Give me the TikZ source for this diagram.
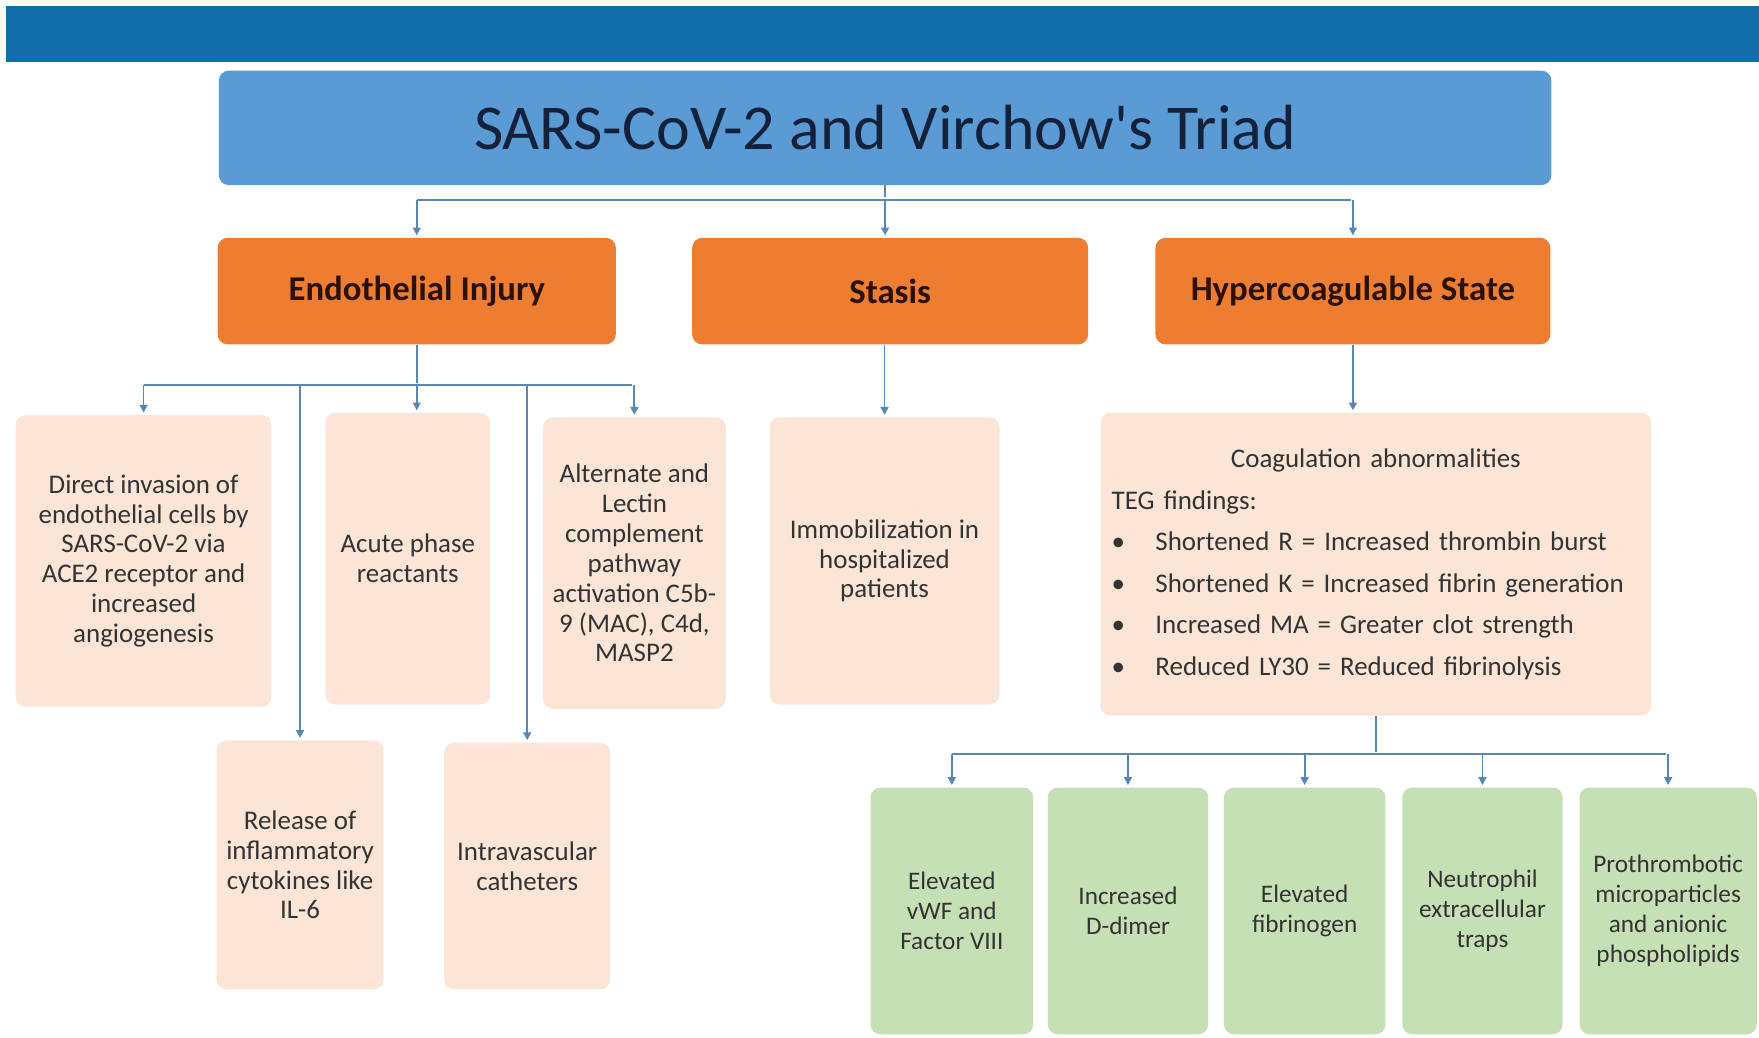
\documentclass[tikz,border=0pt]{standalone}
\usepackage{fontspec}
\setmainfont{Carlito}
\usetikzlibrary{arrows.meta}
\definecolor{barblue}{HTML}{106DA8}
\definecolor{titleblue}{HTML}{5B9BD5}
\definecolor{titleink}{HTML}{13213A}
\definecolor{headorange}{HTML}{ED7D31}
\definecolor{headink}{HTML}{2B1006}
\definecolor{pinkfill}{HTML}{FBE5D6}
\definecolor{greenfill}{HTML}{C5E0B4}
\definecolor{linkblue}{HTML}{5A86B4}
\definecolor{bodyink}{HTML}{333333}
\newcommand\bul{\makebox[39pt][l]{\textbullet}}
\begin{document}
\begin{tikzpicture}[x=1pt,y=-1pt,>={Triangle[length=7pt,width=7pt]},
  box/.style={rounded corners=9pt,inner sep=0pt,align=center,text=bodyink,font=\fontsize{24}{26.6}\selectfont},
  head/.style={box,fill=headorange,minimum width=355pt,minimum height=95pt,text=headink,font=\fontsize{31}{36}\selectfont\bfseries},
  cause/.style={box,fill=pinkfill},
  marker/.style={box,fill=greenfill,minimum height=220pt,font=\fontsize{22.5}{26.6}\selectfont},
  link/.style={linkblue,line width=1.6pt,shorten >=2pt}]
\useasboundingbox (0,0) rectangle (1568,925);
\fill[barblue] (5,5) rectangle (1568,55);

\node[box,fill=titleblue,minimum width=1188pt,minimum height=102pt,text=titleink,font=\fontsize{57}{66}\selectfont] (title) at (789,114) {SARS-CoV-2 and Virchow\textquotesingle s Triad};

\node[head] (inj) at (371.5,259.5) {Endothelial Injury};
\node[head,minimum width=353pt] (stasis) at (793.5,259.5) {Stasis};
\node[head,minimum width=352pt] (hyper) at (1206,259.5) {Hypercoagulable State};

\node[cause,minimum width=228pt,minimum height=260pt] (direct) at (128,500) {Direct invasion of\\endothelial cells by\\SARS-CoV-2 via\\ACE2 receptor and\\increased\\angiogenesis};
\node[cause,minimum width=147pt,minimum height=260pt] (acute) at (363.5,498) {Acute phase\\reactants};
\node[cause,minimum width=163pt,minimum height=260pt] (altern) at (565.5,502) {Alternate and\\Lectin\\complement\\pathway\\activation C5b-\\9 (MAC), C4d,\\MASP2};
\node[cause,minimum width=149pt,minimum height=222pt] (release) at (267.5,771) {Release of\\inflammatory\\cytokines like\\IL-6};
\node[cause,minimum width=148pt,minimum height=220pt] (intrav) at (470,772) {Intravascular\\catheters};
\node[cause,minimum width=205pt,minimum height=256pt] (immob) at (788.5,500) {Immobilization in\\hospitalized\\patients};
\node[cause,minimum width=491pt,minimum height=270pt,text width=471pt,align=left,font=\fontsize{24}{37}\selectfont] (coag) at (1226.5,503)
  {\makebox[\linewidth]{Coagulation abnormalities}\\TEG findings:\\
   \bul Shortened R = Increased thrombin burst\\
   \bul Shortened K = Increased fibrin generation\\
   \bul Increased MA = Greater clot strength\\
   \bul Reduced LY30 = Reduced fibrinolysis};

\foreach \i/\x/\w/\txt in {1/848.5/145/{Elevated\\vWF and\\Factor VIII},
    2/1005.5/143/{Increased\\D-dimer},
    3/1163/144/{Elevated\\fibrinogen},
    4/1321.5/143/{Neutrophil\\extracellular\\traps},
    5/1487/158/{Prothrombotic\\microparticles\\and anionic\\phospholipids}}
  \node[marker,minimum width=\w*1pt] (g\i) at (\x,812) {\txt};

\coordinate (tj) at (title.south |- 0,178);
\draw[link] (title.south) -- (tj);
\draw[link] (tj -| inj.north) -- (tj -| hyper.north);
\foreach \n in {inj,hyper}
    \draw[link,->] (tj -| \n.north) -- (\n.north);
\draw[link,->] (tj) -- (tj |- stasis.north);

\coordinate (ij) at (inj.south |- 0,343);
\draw[link] (inj.south) -- (ij);
\draw[link] (ij -| direct.north) -- (ij -| altern.north);
\foreach \n in {direct,altern,release,intrav}
    \draw[link,->] (ij -| \n.north) -- (\n.north);
\draw[link,->] (ij) -- (ij |- acute.north);

\draw[link,->] (stasis.south -| immob.north) -- (immob.north);
\draw[link,->] (hyper.south) -- (hyper.south |- coag.north);

\coordinate (cj) at (coag.south |- 0,672);
\draw[link] (coag.south) -- (cj);
\draw[link] (cj -| g1.north) -- (cj -| g5.north);
\foreach \i in {1,...,5}
    \draw[link,->] (cj -| g\i.north) -- (g\i.north);
\end{tikzpicture}
\end{document}
